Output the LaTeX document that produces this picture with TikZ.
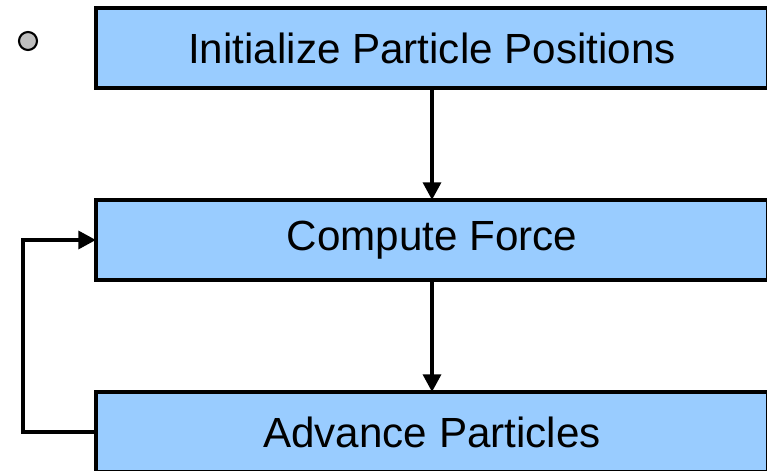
\documentclass[tikz,border=0pt]{standalone}
\usepackage{fontspec}
\setmainfont{Liberation Sans}
\usepackage{xcolor}
\usetikzlibrary{arrows.meta, positioning}
\definecolor{stepblue}{HTML}{99CCFF}

\begin{document}
\begin{tikzpicture}[
    stagebox/.style={draw=black, fill=stepblue, line width=2pt, outer sep=0pt,
          minimum width=13.44cm, minimum height=1.6cm, font=\fontsize{24}{28}\selectfont},
    flow/.style={line width=2.4pt, -{Triangle[length=10pt, width=10pt]}},
    node distance=2.24cm
  ]
    \useasboundingbox (0,0) rectangle (15.34,9.42);
    \node[stagebox] (init) at (8.64,8.46) {Initialize Particle Positions};
    \node[stagebox, below=of init] (force) {Compute Force};
    \node[stagebox, below=of force] (advance) {Advance Particles};
    \node[circle, draw=black, fill=black!25, line width=1.2pt,
          minimum size=0.36cm, inner sep=0pt] (bullet) at (0.56,8.6) {};

    \draw[flow] (init) -- (force);
    \draw[flow] (force) -- (advance);
    \draw[flow] (advance.west) -- ++(-1.46,0) |- (force.west);
  \end{tikzpicture}
\end{document}
